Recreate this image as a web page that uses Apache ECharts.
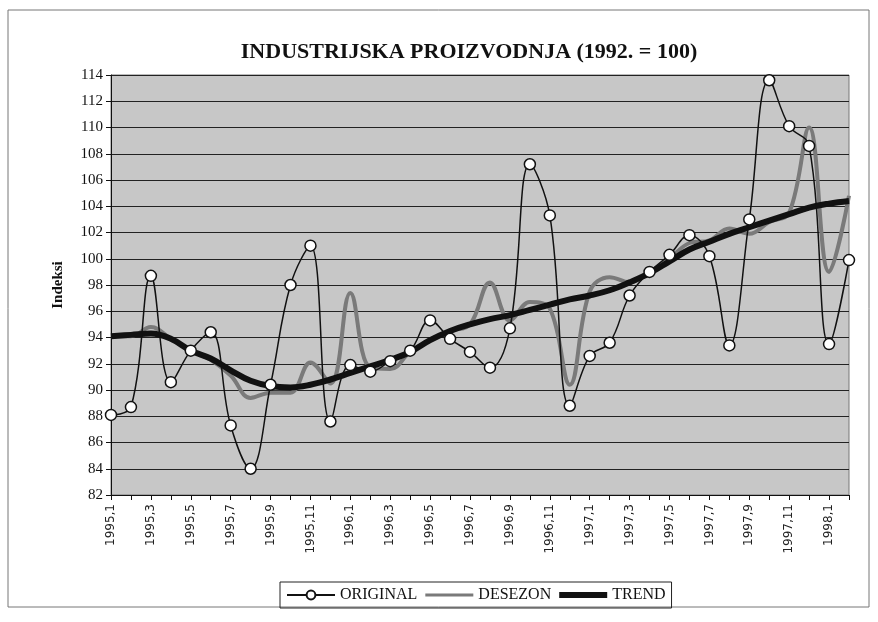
<!DOCTYPE html>
<html>
<head>
<meta charset="utf-8">
<title>Industrijska proizvodnja</title>
<script src="https://cdn.jsdelivr.net/npm/echarts@6/dist/echarts.min.js"></script>
<style>
  html, body { margin: 0; padding: 0; background: #fff; }
  #chart { width: 878px; height: 622px; }
</style>
</head>
<body>
<div id="chart"></div>
<script>
// mjeseci 1995,1 - 1998,2
var months = [
  "1995,1", "1995,2", "1995,3", "1995,4", "1995,5", "1995,6", "1995,7", "1995,8", "1995,9", "1995,10", "1995,11", "1995,12",
  "1996,1", "1996,2", "1996,3", "1996,4", "1996,5", "1996,6", "1996,7", "1996,8", "1996,9", "1996,10", "1996,11", "1996,12",
  "1997,1", "1997,2", "1997,3", "1997,4", "1997,5", "1997,6", "1997,7", "1997,8", "1997,9", "1997,10", "1997,11", "1997,12",
  "1998,1", "1998,2"
];

var original = [
  88.1, 88.7, 98.7, 90.6, 93.0, 94.4, 87.3, 84.0, 90.4, 98.0, 101.0, 87.6,
  91.9, 91.4, 92.2, 93.0, 95.3, 93.9, 92.9, 91.7, 94.7, 107.2, 103.3, 88.8,
  92.6, 93.6, 97.2, 99.0, 100.3, 101.8, 100.2, 93.4, 103.0, 113.6, 110.1, 108.6,
  93.5, 99.9
];

var desezon = [
  94.1, 94.1, 94.8, 93.9, 93.0, 92.3, 91.1, 89.4, 89.8, 89.8, 92.1, 90.5,
  97.4, 91.7, 91.6, 92.9, 93.8, 94.5, 95.0, 98.2, 95.3, 96.7, 96.2, 90.4,
  97.5, 98.6, 98.2, 99.0, 100.0, 101.2, 101.4, 102.3, 101.9, 102.8, 103.5, 110.0,
  99.0, 104.8
];

var trend = [
  94.1, 94.2, 94.3, 93.9, 93.0, 92.4, 91.5, 90.7, 90.3, 90.2, 90.4, 90.8,
  91.3, 91.8, 92.3, 92.9, 93.8, 94.5, 95.0, 95.4, 95.7, 96.1, 96.5, 96.9,
  97.2, 97.6, 98.2, 98.9, 99.8, 100.7, 101.3, 101.9, 102.4, 102.9, 103.4, 103.9,
  104.2, 104.4
];

var myChart = echarts.init(document.getElementById("chart"));
myChart.setOption({
  backgroundColor: "#fff",
  animation: false,
  title: {
    text: "INDUSTRIJSKA PROIZVODNJA (1992. = 100)",
    left: 464,
    top: 36,
    textAlign: "center",
    textStyle: {
      fontFamily: "Liberation Serif",
      fontWeight: "bold",
      fontSize: 22,
      color: "#111",
    },
  },
  graphic: [
    {
      type: "rect",
      shape: { x: 8, y: 10, width: 861, height: 597 },
      style: { fill: "none", stroke: "#777", lineWidth: 1 },
      silent: true,
    },
  ],
  legend: {
    left: 280,
    top: 582,
    padding: [5, 6],
    itemGap: 8,
    itemWidth: 48,
    itemHeight: 11,
    borderColor: "#222",
    borderWidth: 1,
    borderRadius: 0,
    textStyle: {
      fontFamily: "Liberation Serif",
      fontSize: 16,
      color: "#111",
    },
    data: [
      { name: "ORIGINAL" },
      { name: "DESEZON", icon: "path://M0,0 L48,0 L48,3 L0,3 Z", itemStyle: { color: "#7a7a7a" } },
      { name: "TREND", icon: "path://M0,0 L48,0 L48,6 L0,6 Z", itemStyle: { color: "#111" } },
    ],
  },
  grid: {
    left: 111,
    right: 29,
    top: 75,
    bottom: 127,
    show: true,
    backgroundColor: "#c7c7c7",
    borderColor: "#777",
    borderWidth: 1,
  },
  xAxis: {
    type: "category",
    data: months,
    boundaryGap: false,
    axisLine: { lineStyle: { color: "#111", width: 1 } },
    axisTick: { interval: 0, length: 5, lineStyle: { color: "#111" } },
    axisLabel: {
      interval: 1,
      rotate: 90,
      margin: 9,
      fontFamily: "DejaVu Sans",
      fontSize: 12,
      color: "#222",
    },
    splitLine: { show: false },
  },
  yAxis: {
    type: "value",
    min: 82,
    max: 114,
    interval: 2,
    name: "Indeksi",
    nameLocation: "middle",
    nameRotate: 90,
    nameGap: 45,
    nameTextStyle: {
      fontFamily: "Liberation Serif",
      fontWeight: "bold",
      fontSize: 15,
      color: "#111",
    },
    axisLine: { show: true, lineStyle: { color: "#111", width: 1 } },
    axisTick: { show: true, length: 5, lineStyle: { color: "#111" } },
    axisLabel: {
      margin: 8,
      fontFamily: "Liberation Serif",
      fontSize: 15,
      color: "#111",
    },
    splitLine: { lineStyle: { color: "#222", width: 1 } },
  },
  series: [
    {
      name: "DESEZON",
      type: "line",
      data: desezon,
      smooth: 0.4,
      showSymbol: false,
      symbol: "none",
      lineStyle: { color: "#7a7a7a", width: 4 },
      itemStyle: { color: "#7a7a7a" },
      z: 2,
    },
    {
      name: "TREND",
      type: "line",
      data: trend,
      smooth: 0.4,
      showSymbol: false,
      symbol: "none",
      lineStyle: { color: "#111", width: 6 },
      itemStyle: { color: "#111" },
      z: 3,
    },
    {
      name: "ORIGINAL",
      type: "line",
      data: original,
      smooth: 0.4,
      symbol: "circle",
      symbolSize: 11,
      lineStyle: { color: "#111", width: 1.5 },
      itemStyle: { color: "#fff", borderColor: "#111", borderWidth: 1.5 },
      z: 4,
    },
  ],
});
</script>
</body>
</html>
